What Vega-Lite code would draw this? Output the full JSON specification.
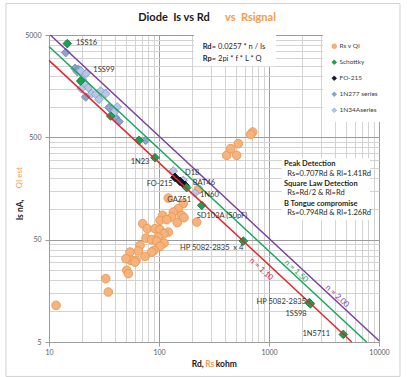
{
  "$schema": "https://vega.github.io/schema/vega-lite/v6.json",
  "width": 330,
  "height": 307,
  "autosize": {"type": "none"},
  "padding": {"left": 49, "top": 35, "right": 28, "bottom": 35},
  "background": "white",
  "config": {"view": {"stroke": "#9C9C9C"}, "font": "Lato", "text": {"font": "Lato"}},
  "datasets": {
    "frame": [{"x": 4.06, "y": 10140, "x2": 15520, "y2": 2.306}],
    "boxes": [
      {"x": 208, "y": 5000, "x2": 1160, "y2": 2472},
      {"x": 1305, "y": 311.7, "x2": 8283, "y2": 77.2}
    ],
    "pts": [
      {"series": "Rs v QI", "x": 121.5, "y": 127.5},
      {"series": "Rs v QI", "x": 166.3, "y": 112.4},
      {"series": "Rs v QI", "x": 149.8, "y": 100.5},
      {"series": "Rs v QI", "x": 134.9, "y": 93.1},
      {"series": "Rs v QI", "x": 160.8, "y": 86.4},
      {"series": "Rs v QI", "x": 130.5, "y": 83.2},
      {"series": "Rs v QI", "x": 108.1, "y": 86.4},
      {"series": "Rs v QI", "x": 102.1, "y": 77.2},
      {"series": "Rs v QI", "x": 117.5, "y": 78.4},
      {"series": "Rs v QI", "x": 146.7, "y": 73.3},
      {"series": "Rs v QI", "x": 168.8, "y": 82.0},
      {"series": "Rs v QI", "x": 220.2, "y": 74.3},
      {"series": "Rs v QI", "x": 71.1, "y": 71.7},
      {"series": "Rs v QI", "x": 78.3, "y": 64.1},
      {"series": "Rs v QI", "x": 91.9, "y": 64.1},
      {"series": "Rs v QI", "x": 102.1, "y": 62.6},
      {"series": "Rs v QI", "x": 121.5, "y": 59.3},
      {"series": "Rs v QI", "x": 111.1, "y": 57.2},
      {"series": "Rs v QI", "x": 98.5, "y": 53.0},
      {"series": "Rs v QI", "x": 76.2, "y": 51.8},
      {"series": "Rs v QI", "x": 85.8, "y": 50.0},
      {"series": "Rs v QI", "x": 95.3, "y": 48.4},
      {"series": "Rs v QI", "x": 111.1, "y": 46.3},
      {"series": "Rs v QI", "x": 102.1, "y": 43.0},
      {"series": "Rs v QI", "x": 90.1, "y": 39.3},
      {"series": "Rs v QI", "x": 67.2, "y": 44.0},
      {"series": "Rs v QI", "x": 64.8, "y": 38.7},
      {"series": "Rs v QI", "x": 54.5, "y": 37.8},
      {"series": "Rs v QI", "x": 85.8, "y": 37.8},
      {"series": "Rs v QI", "x": 74.6, "y": 34.3},
      {"series": "Rs v QI", "x": 61.8, "y": 31.4},
      {"series": "Rs v QI", "x": 55.3, "y": 31.4},
      {"series": "Rs v QI", "x": 50.1, "y": 32.6},
      {"series": "Rs v QI", "x": 60.5, "y": 30.2},
      {"series": "Rs v QI", "x": 50.9, "y": 25.1},
      {"series": "Rs v QI", "x": 52.6, "y": 23.3},
      {"series": "Rs v QI", "x": 32.8, "y": 20.8},
      {"series": "Rs v QI", "x": 34.6, "y": 15.4},
      {"series": "Rs v QI", "x": 11.6, "y": 11.4},
      {"series": "Rs v QI", "x": 412.6, "y": 333.4},
      {"series": "Rs v QI", "x": 508.5, "y": 333.4},
      {"series": "Rs v QI", "x": 448.6, "y": 387.6},
      {"series": "Rs v QI", "x": 526.0, "y": 433.9},
      {"series": "Rs v QI", "x": 710.9, "y": 563.4},
      {"series": "Rs v QI", "x": 681.7, "y": 534.9},
      {"series": "Rs v QI", "x": 227.7, "y": 155.1},
      {"series": "1N277 series", "x": 14.18, "y": 3365},
      {"series": "1N277 series", "x": 17.23, "y": 2363},
      {"series": "1N277 series", "x": 18.47, "y": 2311},
      {"series": "1N277 series", "x": 18.09, "y": 2194},
      {"series": "1N277 series", "x": 21.56, "y": 1239},
      {"series": "1N277 series", "x": 35.13, "y": 976},
      {"series": "1N277 series", "x": 40.4, "y": 779},
      {"series": "1N277 series", "x": 43.29, "y": 712},
      {"series": "1N277 series", "x": 75.7, "y": 467},
      {"series": "1N34Aseries", "x": 19.42, "y": 2224},
      {"series": "1N34Aseries", "x": 21.83, "y": 2111},
      {"series": "1N34Aseries", "x": 20.07, "y": 1845},
      {"series": "1N34Aseries", "x": 21.56, "y": 1649},
      {"series": "1N34Aseries", "x": 22.77, "y": 1530},
      {"series": "1N34Aseries", "x": 19.67, "y": 1496},
      {"series": "1N34Aseries", "x": 24.44, "y": 1337},
      {"series": "1N34Aseries", "x": 26.58, "y": 1316},
      {"series": "1N34Aseries", "x": 29.51, "y": 1418},
      {"series": "1N34Aseries", "x": 32.77, "y": 1337},
      {"series": "1N34Aseries", "x": 28.48, "y": 1176},
      {"series": "1N34Aseries", "x": 41.78, "y": 989},
      {"series": "1N34Aseries", "x": 38.98, "y": 872},
      {"series": "1N34Aseries", "x": 134.9, "y": 234.2},
      {"series": "1N34Aseries", "x": 166.3, "y": 190},
      {"series": "1N34Aseries", "x": 212.5, "y": 142.7},
      {"series": "FO-215", "x": 139.7, "y": 203.2},
      {"series": "FO-215", "x": 155.2, "y": 185.8},
      {"series": "FO-215", "x": 172.3, "y": 169.8},
      {"series": "Schottky", "x": 14.67, "y": 4120},
      {"series": "Schottky", "x": 19.4, "y": 1774},
      {"series": "Schottky", "x": 36.4, "y": 807},
      {"series": "Schottky", "x": 65.8, "y": 467},
      {"series": "Schottky", "x": 91.9, "y": 316.6},
      {"series": "Schottky", "x": 178.6, "y": 161.2},
      {"series": "Schottky", "x": 244.5, "y": 108.2},
      {"series": "Schottky", "x": 584.1, "y": 48.45},
      {"series": "Schottky", "x": 2325, "y": 12.11},
      {"series": "Schottky", "x": 2380, "y": 11.8},
      {"series": "Schottky", "x": 4738, "y": 5.93}
    ],
    "lines": [
      {"n": "1.10", "x": 10, "y": 2827},
      {"n": "1.10", "x": 5654, "y": 5},
      {"n": "1.50", "x": 10, "y": 3855},
      {"n": "1.50", "x": 7710, "y": 5},
      {"n": "2.00", "x": 10.28, "y": 5000},
      {"n": "2.00", "x": 10000, "y": 5.14}
    ],
    "lineLabels": [
      {"n": "1.10", "label": "n = 1.10", "x": 845.6, "y": 25.6},
      {"n": "1.50", "label": "n = 1.50", "x": 1760, "y": 24.5},
      {"n": "2.00", "label": "n = 2.00", "x": 4150, "y": 13.96}
    ],
    "labelsL": [
      {"label": "1SS16", "x": 17.6, "y": 4148},
      {"label": "1SS99", "x": 25.3, "y": 2259},
      {"label": "D18", "x": 172.3, "y": 224.9},
      {"label": "BAT46", "x": 202.6, "y": 180.4},
      {"label": "1N60", "x": 235.9, "y": 137.7},
      {"label": "GAZ51", "x": 119.0, "y": 122.8},
      {"label": "SD103A (50pF)", "x": 220.2, "y": 85.1},
      {"label": "HP 5082-2835 \u00a0x 4", "x": 155.2, "y": 41.4}
    ],
    "labelsR": [
      {"label": "1N23", "x": 81.9, "y": 286.9},
      {"label": "FO-215", "x": 133.2, "y": 173.6},
      {"label": "HP 5082-2835", "x": 2170, "y": 12.19},
      {"label": "1SS98", "x": 2201, "y": 9.45},
      {"label": "1N5711", "x": 3586, "y": 6.03}
    ],
    "boldNotes": [
      {"label": "Rd", "x": 249.6, "y": 3817},
      {"label": "Rp", "x": 249.6, "y": 2940},
      {"label": "Peak Detection", "x": 1369, "y": 274.2},
      {"label": "Square Law Detection", "x": 1369, "y": 174.8},
      {"label": "B Tongue compromise", "x": 1369, "y": 112.4}
    ],
    "notes": [
      {"label": "\u00a0= 0.0257 * n / Is", "x": 302, "y": 3817},
      {"label": "\u00a0= 2pi * f * L * Q", "x": 302, "y": 2940},
      {"label": "Rs=0.707Rd & Rl=1.41Rd", "x": 1467, "y": 220.9},
      {"label": "Rs=Rd/2 & Rl=Rd", "x": 1467, "y": 141.8},
      {"label": "Rs=0.794Rd & Rl=1.26Rd", "x": 1467, "y": 90.4}
    ],
    "titleBlack": [
      {"label": "Diode \u00a0Is vs Rd", "x": 136.9, "y": 7396}
    ],
    "titleOrange": [
      {"label": "vs \u00a0Rsignal", "x": 678.9, "y": 7396}
    ],
    "xTitleBlack": [
      {"label": "Rd,", "x": 225.3, "y": 3.07},
      {"label": "kohm", "x": 409.1, "y": 3.07}
    ],
    "xTitleOrange": [
      {"label": "Rs", "x": 289, "y": 3.07}
    ],
    "yTitleBlack": [{"label": "Is nA,", "x": 5.45, "y": 97.8}],
    "yTitleOrange": [{"label": "QI est", "x": 5.45, "y": 200.9}]
  },
  "encoding": {
    "x": {
      "field": "x",
      "type": "quantitative",
      "scale": {"type": "log", "domain": [10, 10000], "nice": false},
      "axis": {
        "values": [10, 20, 30, 40, 50, 60, 70, 80, 90, 100, 200, 300, 400, 500, 600, 700, 800, 900, 1000, 2000, 3000, 4000, 5000, 6000, 7000, 8000, 9000, 10000],
        "format": "d",
        "labelExpr": "indexof([10,100,1000,10000], datum.value) >= 0 ? datum.label : ''",
        "title": null,
        "grid": true,
        "gridColor": {"condition": {"test": "indexof([10,100,1000,10000], datum.value) >= 0", "value": "#9C9C9C"}, "value": "#D3D3D3"},
        "tickColor": {"condition": {"test": "indexof([10,100,1000,10000], datum.value) >= 0", "value": "#9C9C9C"}, "value": "transparent"},
        "domainColor": "#9C9C9C",
        "tickSize": 4,
        "labelFontSize": 7,
        "labelColor": "#595959",
        "labelPadding": 2,
        "labelOverlap": false,
        "labelFlush": false
      }
    },
    "y": {
      "field": "y",
      "type": "quantitative",
      "scale": {"type": "log", "domain": [5, 5000], "nice": false},
      "axis": {
        "values": [5, 10, 15, 20, 25, 30, 35, 40, 45, 50, 100, 150, 200, 250, 300, 350, 400, 450, 500, 1000, 1500, 2000, 2500, 3000, 3500, 4000, 4500, 5000],
        "format": "d",
        "labelExpr": "indexof([5,50,500,5000], datum.value) >= 0 ? datum.label : ''",
        "title": null,
        "grid": true,
        "gridColor": {"condition": {"test": "indexof([5,50,500,5000], datum.value) >= 0", "value": "#9C9C9C"}, "value": "#D3D3D3"},
        "tickColor": {"condition": {"test": "indexof([5,50,500,5000], datum.value) >= 0", "value": "#9C9C9C"}, "value": "transparent"},
        "domainColor": "#9C9C9C",
        "tickSize": 4,
        "labelFontSize": 7,
        "labelColor": "#595959",
        "labelPadding": 4,
        "labelOverlap": false,
        "labelFlush": false
      }
    }
  },
  "layer": [
    {
      "data": {"name": "frame"},
      "mark": {"type": "rect", "filled": false, "color": "#D0D0D0", "strokeWidth": 1, "clip": false},
      "encoding": {"x2": {"field": "x2"}, "y2": {"field": "y2"}}
    },
    {
      "data": {"name": "boxes"},
      "mark": {"type": "rect", "fill": "white", "clip": false},
      "encoding": {"x2": {"field": "x2"}, "y2": {"field": "y2"}}
    },
    {
      "data": {"name": "pts"},
      "mark": {"type": "point", "filled": true, "size": 75, "strokeWidth": 0.8, "opacity": 1},
      "encoding": {
        "fill": {
          "field": "series",
          "type": "nominal",
          "scale": {"domain": ["Rs v QI", "Schottky", "FO-215", "1N277 series", "1N34Aseries"], "range": ["#F7B27D", "#13A650", "#15152A", "#8EA4CF", "#B7C8E6"]},
          "legend": {"title": null, "orient": "none", "legendX": 274, "legendY": 0, "fillColor": "white", "padding": 8, "rowPadding": 8, "labelFontSize": 6.5, "labelColor": "#404040", "symbolSize": 22, "symbolStrokeWidth": 0.6, "labelOffset": 2}
        },
        "stroke": {
          "field": "series",
          "type": "nominal",
          "scale": {"domain": ["Rs v QI", "Schottky", "FO-215", "1N277 series", "1N34Aseries"], "range": ["#E69448", "#1E6B3A", "#000000", "#6B84B5", "#7F97C6"]}
        },
        "shape": {
          "field": "series",
          "type": "nominal",
          "scale": {"domain": ["Rs v QI", "Schottky", "FO-215", "1N277 series", "1N34Aseries"], "range": ["circle", "diamond", "diamond", "diamond", "diamond"]}
        }
      }
    },
    {
      "data": {"name": "lines"},
      "mark": {"type": "line", "strokeWidth": 1.5},
      "encoding": {
        "color": {"field": "n", "type": "nominal", "scale": {"domain": ["1.10", "1.50", "2.00"], "range": ["#E3262B", "#17A85A", "#7A3FA0"]}, "legend": null},
        "detail": {"field": "n"}
      }
    },
    {
      "data": {"name": "lineLabels"},
      "mark": {"type": "text", "angle": 43, "fontSize": 8, "align": "center", "baseline": "middle", "clip": false},
      "encoding": {
        "text": {"field": "label"},
        "color": {"field": "n", "type": "nominal", "legend": null}
      }
    },
    {
      "data": {"name": "labelsL"},
      "mark": {"type": "text", "fontSize": 7.5, "align": "left", "baseline": "middle", "color": "#333333", "clip": false},
      "encoding": {"text": {"field": "label"}}
    },
    {
      "data": {"name": "labelsR"},
      "mark": {"type": "text", "fontSize": 7.5, "align": "right", "baseline": "middle", "color": "#333333", "clip": false},
      "encoding": {"text": {"field": "label"}}
    },
    {
      "data": {"name": "boldNotes"},
      "mark": {"type": "text", "fontSize": 7.5, "fontWeight": "bold", "align": "left", "baseline": "middle", "color": "#262626", "clip": false},
      "encoding": {"text": {"field": "label"}}
    },
    {
      "data": {"name": "notes"},
      "mark": {"type": "text", "fontSize": 7.5, "align": "left", "baseline": "middle", "color": "#262626", "clip": false},
      "encoding": {"text": {"field": "label"}}
    },
    {
      "data": {"name": "titleBlack"},
      "mark": {"type": "text", "fontSize": 11, "fontWeight": "bold", "align": "center", "baseline": "middle", "color": "#1A1A1A", "clip": false},
      "encoding": {"text": {"field": "label"}}
    },
    {
      "data": {"name": "titleOrange"},
      "mark": {"type": "text", "fontSize": 11, "fontWeight": "bold", "align": "center", "baseline": "middle", "color": "#F39A4B", "clip": false},
      "encoding": {"text": {"field": "label"}}
    },
    {
      "data": {"name": "xTitleBlack"},
      "mark": {"type": "text", "fontSize": 8.5, "fontWeight": "bold", "align": "center", "baseline": "middle", "color": "#1A1A1A", "clip": false},
      "encoding": {"text": {"field": "label"}}
    },
    {
      "data": {"name": "xTitleOrange"},
      "mark": {"type": "text", "fontSize": 8.5, "fontWeight": "bold", "align": "center", "baseline": "middle", "color": "#F39A4B", "clip": false},
      "encoding": {"text": {"field": "label"}}
    },
    {
      "data": {"name": "yTitleBlack"},
      "mark": {"type": "text", "fontSize": 8.5, "fontWeight": "bold", "angle": 270, "align": "center", "baseline": "middle", "color": "#1A1A1A", "clip": false},
      "encoding": {"text": {"field": "label"}}
    },
    {
      "data": {"name": "yTitleOrange"},
      "mark": {"type": "text", "fontSize": 8, "angle": 270, "align": "center", "baseline": "middle", "color": "#F39A4B", "clip": false},
      "encoding": {"text": {"field": "label"}}
    }
  ]
}
